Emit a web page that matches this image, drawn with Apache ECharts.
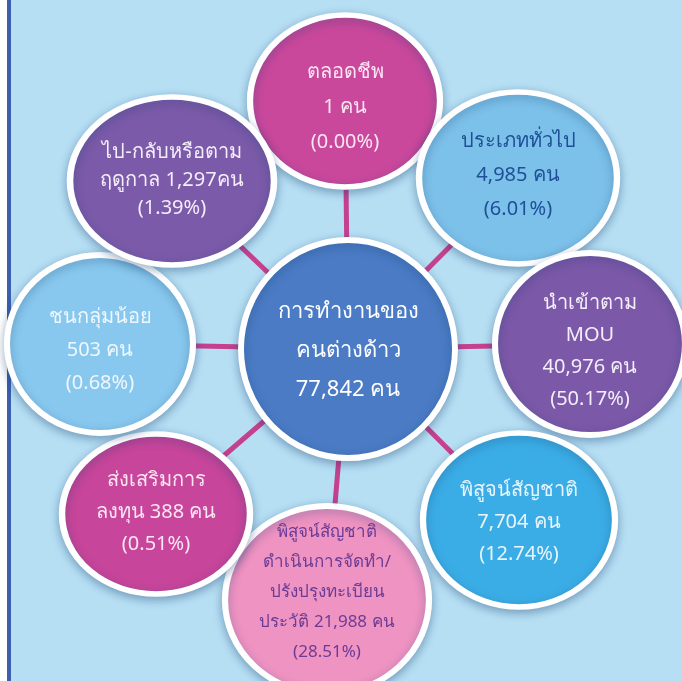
<!DOCTYPE html>
<html>
<head>
<meta charset="utf-8">
<script src="https://cdn.jsdelivr.net/npm/echarts@6/dist/echarts.min.js"></script>
<style>
html,body{margin:0;padding:0;background:#fff;}
#chart{width:682px;height:681px;}
</style>
</head>
<body>
<div id="chart"></div>
<script>
// ---- data ----
const hubName = 'การทำงานของ\nคนต่างด้าว';
const hubTotal = 77842;
const categories = [
  'ตลอดชีพ',
  'ประเภททั่วไป',
  'นำเข้าตาม\nMOU',
  'พิสูจน์สัญชาติ',
  'พิสูจน์สัญชาติ\nดำเนินการจัดทำ/\nปรังปรุงทะเบียน\nประวัติ',
  'ส่งเสริมการ\nลงทุน',
  'ชนกลุ่มน้อย',
  'ไป-กลับหรือตาม\nฤดูกาล'
];
const workers = [1, 4985, 40976, 7704, 21988, 388, 503, 1297];
const percents = ['0.00%', '6.01%', '50.17%', '12.74%', '28.51%', '0.51%', '0.68%', '1.39%'];

// ---- layout (diagram placement, not data) ----
const hubLayout = {pos: [348, 349], size: [214, 218], color: '#4a7bc4', text: '#ffffff', fs: 22, lh: 39, dy: 2};
const layout = [
  {pos: [345, 101], size: [190, 172], color: '#c9489c', text: '#fbe6f2', fs: 20, lh: 35, dy: 6, sep: '\n', unit: ' คน'},
  {pos: [518, 178], size: [198, 172], color: '#7cc1ea', text: '#1f4f97', fs: 20, lh: 34, dy: -3, sep: '\n', unit: ' คน'},
  {pos: [590, 344], size: [190, 182], color: '#7c58a8', text: '#f4eefa', fs: 20, lh: 32, dy: 7, sep: '\n', unit: ' คน'},
  {pos: [519, 520], size: [192, 174], color: '#3badE6', text: '#e9f5fc', fs: 20, lh: 32, dy: 2, sep: '\n', unit: ' คน'},
  {pos: [327, 600], size: [204, 188], color: '#ef93c2', text: '#6a3c95', fs: 17, lh: 30, dy: -8, sep: ' ', unit: ' คน'},
  {pos: [156, 514], size: [188, 160], color: '#c7459a', text: '#fbe6f2', fs: 20, lh: 32, dy: -2, sep: ' ', unit: ' คน'},
  {pos: [100, 344], size: [186, 178], color: '#88c8ee', text: '#eef7fd', fs: 20, lh: 33, dy: 6, sep: '\n', unit: ' คน'},
  {pos: [172, 181], size: [204, 168], color: '#7b5aa9', text: '#f4eefa', fs: 20, lh: 28, dy: -1, sep: ' ', unit: 'คน'}
];

const fmt = n => n.toLocaleString('en-US');
const font = '"Noto Sans", "DejaVu Sans", sans-serif';

function nodeStyle(color) {
  return {
    color: color,
    borderColor: '#ffffff',
    borderWidth: 6,
    shadowBlur: 10,
    shadowOffsetY: 3,
    shadowColor: 'rgba(20,60,110,0.35)'
  };
}

const nodes = [{
  name: 'hub',
  value: hubLayout.pos,
  symbolSize: hubLayout.size,
  itemStyle: nodeStyle(hubLayout.color),
  label: {
    show: true,
    position: 'inside',
    offset: [0, hubLayout.dy],
    formatter: hubName + '\n' + fmt(hubTotal) + ' คน',
    color: hubLayout.text, fontSize: hubLayout.fs, lineHeight: hubLayout.lh,
    fontFamily: font, align: 'center'
  }
}];
categories.forEach((c, i) => {
  const L = layout[i];
  nodes.push({
    name: 'n' + i,
    value: L.pos,
    symbolSize: L.size,
    itemStyle: nodeStyle(L.color),
    label: {
      show: true,
      position: 'inside',
      offset: [0, L.dy],
      formatter: c + L.sep + fmt(workers[i]) + L.unit + '\n(' + percents[i] + ')',
      color: L.text, fontSize: L.fs, lineHeight: L.lh,
      fontFamily: font, align: 'center'
    }
  });
});
const links = categories.map((c, i) => ({source: 0, target: i + 1}));

const chart = echarts.init(document.getElementById('chart'));
chart.setOption({
  animation: false,
  backgroundColor: '#b6dff4',
  grid: {left: 0, right: 0, top: 0, bottom: 0},
  xAxis: {type: 'value', min: 0, max: 682, show: false},
  yAxis: {type: 'value', min: 0, max: 681, inverse: true, show: false},
  graphic: [
    {type: 'rect', shape: {x: 0, y: 0, width: 7, height: 681}, style: {fill: '#ffffff'}, silent: true},
    {type: 'rect', shape: {x: 7, y: 0, width: 4, height: 681}, style: {fill: '#3c5fae'}, silent: true}
  ],
  series: [{
    type: 'graph',
    coordinateSystem: 'cartesian2d',
    symbol: 'circle',
    data: nodes,
    links: links,
    lineStyle: {color: '#c4418d', width: 5, opacity: 1, curveness: 0},
    emphasis: {disabled: true},
    z: 2
  }]
});
</script>
</body>
</html>
